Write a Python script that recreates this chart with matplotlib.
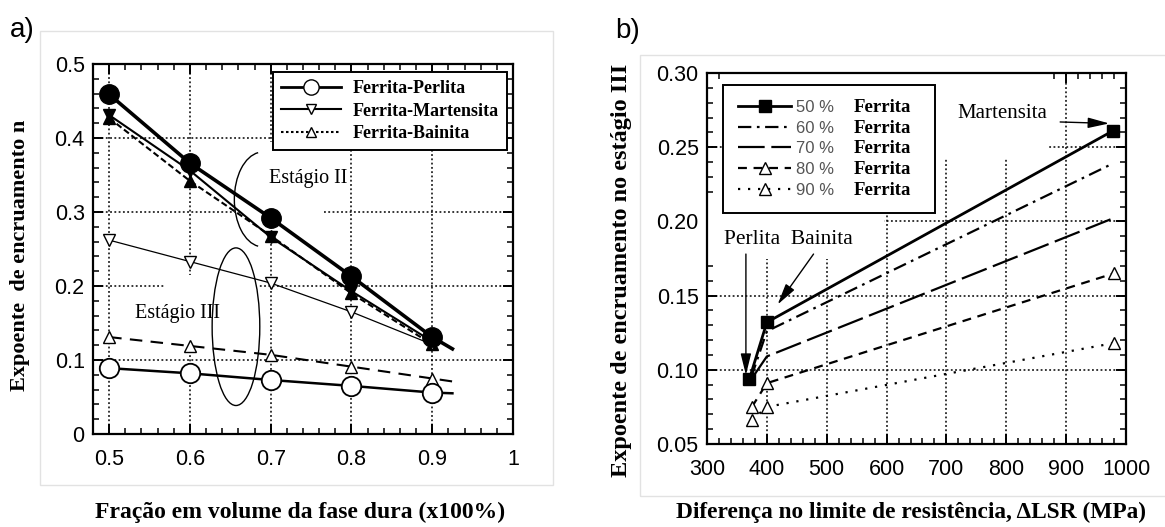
import matplotlib
matplotlib.use("Agg")
import matplotlib.pyplot as plt
from matplotlib.patches import Ellipse, Arc, Rectangle
from matplotlib.lines import Line2D
from matplotlib.ticker import MultipleLocator, FuncFormatter
from matplotlib.transforms import IdentityTransform

# ---------------- data: panel a ----------------
frac = [0.5, 0.6, 0.7, 0.8, 0.9]
frac_end = 0.925
perlita_II = [0.459, 0.366, 0.292, 0.213, 0.131]
perlita_II_end = 0.115
martensita_II = [0.431, 0.356, 0.266, 0.193, 0.125]
bainita_II = [0.427, 0.342, 0.268, 0.190, 0.121]
martensita_III = [0.262, 0.233, 0.204, 0.165, 0.121]
bainita_III = [0.131, 0.119, 0.107, 0.091, 0.075]
bainita_III_end = 0.071
perlita_III = [0.089, 0.082, 0.073, 0.065, 0.056]
perlita_III_end = 0.055
legend_a = ["Ferrita-Perlita", "Ferrita-Martensita", "Ferrita-Bainita"]

# ---------------- data: panel b ----------------
dlsr_50 = [371, 400, 978]
n_50 = [0.094, 0.132, 0.261]
dlsr_60 = [374, 400, 978]
n_60 = [0.095, 0.126, 0.239]
dlsr_70 = [378, 400, 978]
n_70 = [0.096, 0.109, 0.202]
dlsr_80 = [375, 400, 980]
n_80 = [0.075, 0.091, 0.165]
dlsr_90 = [375, 400, 980]
n_90 = [0.066, 0.075, 0.118]
legend_b = ["50 %", "60 %", "70 %", "80 %", "90 %"]
legend_b_phase = "Ferrita"

W, H = 1165, 527
fig = plt.figure(figsize=(W / 100, H / 100), dpi=100)
fig.patch.set_facecolor("white")

SANS = ["Liberation Sans", "DejaVu Sans"]
SERIF = ["Liberation Serif", "DejaVu Serif"]

# faint panel borders
fig.patches.append(Rectangle((40 / W, 1 - 485 / H), 513 / W, 454 / H, transform=fig.transFigure,
                             fill=False, ec="#e2e2e2", lw=1))
fig.patches.append(Rectangle((640 / W, 1 - 496 / H), 530 / W, 441 / H, transform=fig.transFigure,
                             fill=False, ec="#e2e2e2", lw=1))

axa = fig.add_axes([93 / W, 1 - 434 / H, 420 / W, 370 / H])
axb = fig.add_axes([707 / W, 1 - 444 / H, 419 / W, 371 / H])


def style_axes(ax, xmaj, xmin, ymaj, ymin, xfmt, yfmt):
    ax.xaxis.set_major_locator(MultipleLocator(xmaj))
    ax.xaxis.set_minor_locator(MultipleLocator(xmin))
    ax.yaxis.set_major_locator(MultipleLocator(ymaj))
    ax.yaxis.set_minor_locator(MultipleLocator(ymin))
    ax.xaxis.set_major_formatter(FuncFormatter(xfmt))
    ax.yaxis.set_major_formatter(FuncFormatter(yfmt))
    ax.tick_params(which="both", direction="in", top=True, right=True, colors="black")
    ax.tick_params(which="major", length=7, width=1.4, labelsize=15.5)
    ax.tick_params(which="minor", length=4, width=1.1)
    ax.tick_params(axis="x", which="major", pad=11)
    ax.tick_params(axis="y", which="major", pad=6)
    for lab in ax.get_xticklabels() + ax.get_yticklabels():
        lab.set_fontfamily(SANS)
    for s in ax.spines.values():
        s.set_linewidth(1.6)
    ax.set_axisbelow(True)
    ax.grid(True, which="major", color="black", linestyle=(0, (1.2, 1.6)), linewidth=1.1)


# ---------------- panel a ----------------
axa.set_xlim(0.48, 1.0)
axa.set_ylim(0, 0.5)
style_axes(axa, 0.1, 0.02, 0.1, 0.02,
           lambda v, p: "%g" % round(v, 2), lambda v, p: "%g" % round(v, 2))

# white masks (grid hidden behind annotations in the original)
axa.add_patch(Rectangle((0.663, 0.29), 0.10, 0.105, fc="white", ec="none", zorder=1))
axa.add_patch(Rectangle((0.569, 0.125), 0.115, 0.09, fc="white", ec="none", zorder=1))

# stage II
axa.plot(frac + [frac_end], perlita_II + [perlita_II_end], color="black", lw=2.6, zorder=3)
axa.plot(frac, perlita_II, "o", color="black", ms=14, zorder=4)
axa.plot(frac, martensita_II, color="black", lw=1.5, marker="v", ms=8, mfc="black", zorder=3)
axa.plot(frac, bainita_II, color="black", lw=1.5, linestyle=(0, (3, 1.5)), marker="^", ms=8,
         mfc="black", zorder=3)
# stage III
axa.plot(frac, martensita_III, color="black", lw=0.9, marker="v", ms=8, mfc="white", zorder=3)
axa.plot(frac + [frac_end], bainita_III + [bainita_III_end], color="black", lw=1.5,
         linestyle=(0, (6, 4)), zorder=3)
axa.plot(frac, bainita_III, "^", color="black", ms=8, mfc="white", zorder=4)
axa.plot(frac + [frac_end], perlita_III + [perlita_III_end], color="black", lw=1.8, zorder=3)
axa.plot(frac, perlita_III, "o", color="black", ms=14, mfc="white", mew=1.3, zorder=4)

# ellipses
axa.add_patch(Arc((0.69, 0.317), 0.07, 0.128, theta1=95, theta2=265, color="black", lw=1.0, zorder=3))
axa.add_patch(Ellipse((0.657, 0.145), 0.059, 0.213, fill=False, ec="black", lw=1.0, zorder=3))

axa.text(0.747, 0.345, "Estágio II", fontsize=14.5, family=SERIF, ha="center", va="center", zorder=5)
axa.text(0.585, 0.163, "Estágio III", fontsize=14.5, family=SERIF, ha="center", va="center", zorder=5)

handles_a = [
    Line2D([], [], color="black", lw=2, marker="o", ms=11, mfc="white"),
    Line2D([], [], color="black", lw=1.5, marker="v", ms=7, mfc="white"),
    Line2D([], [], color="black", lw=1.5, linestyle=(0, (1.2, 1.2)), marker="^", ms=7, mfc="white"),
]
lega = axa.legend(handles_a, legend_a, loc="upper right", bbox_to_anchor=(0.985, 0.978),
                  prop={"family": SERIF, "weight": "bold", "size": 13}, frameon=True, fancybox=False,
                  edgecolor="black", framealpha=1, handlelength=3.3, handletextpad=0.65,
                  labelspacing=0.3, borderpad=0.45, borderaxespad=0)
lega.get_frame().set_linewidth(1.4)
lega.set_zorder(10)

# ---------------- panel b ----------------
axb.set_xlim(300, 1000)
axb.set_ylim(0.05, 0.30)
style_axes(axb, 100, 20, 0.05, 0.01,
           lambda v, p: "%d" % round(v), lambda v, p: "%.2f" % v)

axb.add_patch(Rectangle((300, 0.175), 295, 0.04, fc="white", ec="none", zorder=1))
axb.add_patch(Rectangle((325, 0.205), 360, 0.095, fc="white", ec="none", zorder=1))
axb.add_patch(Rectangle((680, 0.243), 190, 0.057, fc="white", ec="none", zorder=1))

l50, = axb.plot(dlsr_50, n_50, color="black", lw=2.0, marker="s", ms=8, mfc="black", zorder=3)
l60, = axb.plot(dlsr_60, n_60, color="black", lw=1.6, linestyle=(0, (6, 2.5, 1.2, 2.5)), zorder=3)
l70, = axb.plot(dlsr_70, n_70, color="black", lw=1.6, linestyle=(0, (12, 3)), zorder=3)
l80, = axb.plot(dlsr_80, n_80, color="black", lw=1.6, linestyle=(0, (4, 3)), marker="^", ms=8,
                mfc="white", zorder=3)
l90, = axb.plot(dlsr_90, n_90, color="black", lw=1.6, linestyle=(0, (1, 3.5)), marker="^", ms=8,
                mfc="white", zorder=3)

axb.text(328, 0.188, "Perlita  Bainita", fontsize=15.5, family=SERIF, ha="left", va="center", zorder=5)
axb.text(793, 0.273, "Martensita", fontsize=15, family=SERIF, ha="center", va="center", zorder=5)

arrow_kw = dict(arrowstyle="-|>,head_length=1.3,head_width=0.32", color="black", lw=1.0,
                shrinkA=0, shrinkB=0)
axb.annotate("", xy=(365, 0.0965), xytext=(365, 0.178), arrowprops=arrow_kw, zorder=5)
axb.annotate("", xy=(418, 0.144), xytext=(478, 0.178), arrowprops=arrow_kw, zorder=5)
axb.annotate("", xy=(972, 0.266), xytext=(890, 0.267), arrowprops=arrow_kw, zorder=5)

legb = axb.legend([l50, l60, l70, l80, l90], legend_b, loc="upper left",
                  bbox_to_anchor=(0.038, 0.968), prop={"family": SANS, "size": 12},
                  frameon=False, handlelength=3.2, handletextpad=0.3, labelspacing=0.34,
                  borderpad=0.9, borderaxespad=0)
legb.set_zorder(10)
for t in legb.get_texts():
    t.set_color("#555555")

# axis labels and panel tags
fig.text(300 / W, 1 - 512 / H, "Fração em volume da fase dura (x100%)", fontsize=17,
         family=SERIF, weight="bold", ha="center", va="center")
fig.text(676 / W, 1 - 512 / H, "Diferença no limite de resistência, ΔLSR (MPa)", fontsize=16.8,
         family=SERIF, weight="bold", ha="left", va="center")
fig.text(20 / W, 1 - 255 / H, "Expoente  de encruamento n", fontsize=16, family=SERIF,
         weight="bold", rotation=90, ha="center", va="center")
fig.text(622 / W, 1 - 270 / H, "Expoente de encruamento no estágio III", fontsize=17.5,
         family=SERIF, weight="bold", rotation=90, ha="center", va="center")
fig.text(22 / W, 1 - 30 / H, "a)", fontsize=20, family=SANS, ha="center", va="center")
fig.text(628 / W, 1 - 31 / H, "b)", fontsize=20, family=SANS, ha="center", va="center")

# "Ferrita" column and frame of legend b
fig.canvas.draw()
renderer = fig.canvas.get_renderer()
texts = legb.get_texts()
leg_bb = legb.get_window_extent(renderer)
x0 = texts[0].get_window_extent(renderer).x0
x_right = x0
for t in texts:
    bb = t.get_window_extent(renderer)
    ft = axb.text(x0 + 57, (bb.y0 + bb.y1) / 2, legend_b_phase, fontsize=13.5, family=SERIF,
                  weight="bold", ha="left", va="center", zorder=12, transform=IdentityTransform())
    x_right = max(x_right, ft.get_window_extent(renderer).x1)
frame = Rectangle((leg_bb.x0, leg_bb.y0), x_right + 24 - leg_bb.x0, leg_bb.height,
                  transform=IdentityTransform(), fc="white", ec="black", lw=1.4, zorder=9,
                  clip_on=False)
axb.add_artist(frame)

fig.savefig("out.png", dpi=100)
